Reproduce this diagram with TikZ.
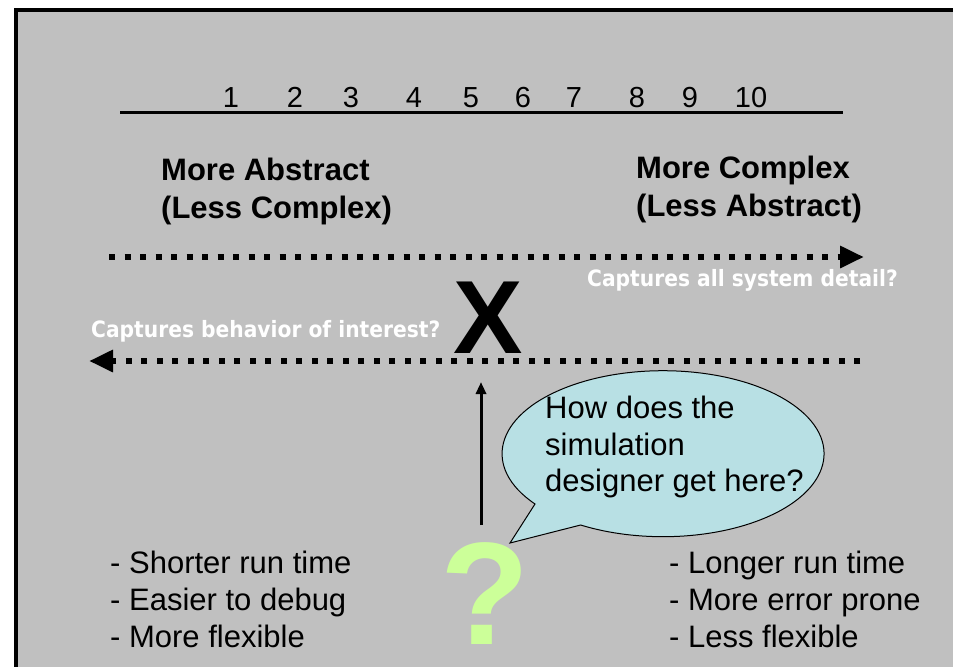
\documentclass[tikz,border=0pt]{standalone}
\usepackage{fontspec}
\setmainfont{Liberation Sans}
\newfontfamily\capfont{DejaVu Sans}[FakeStretch=0.9]
\usetikzlibrary{arrows.meta}
\definecolor{slidegray}{RGB}{192,192,192}
\definecolor{bubblecyan}{RGB}{184,224,228}
\definecolor{qgreen}{RGB}{204,255,153}

\begin{document}
\begin{tikzpicture}[x=1pt,y=-1pt,
  txt/.style={inner sep=0pt, anchor=base west, font=\fontsize{31}{37}\selectfont},
  headtxt/.style={inner sep=0pt, anchor=base west, font=\fontsize{31}{37}\selectfont\bfseries},
  numtxt/.style={inner sep=0pt, anchor=base, font=\fontsize{29}{34}\selectfont},
  captxt/.style={inner sep=0pt, anchor=base west, text=white,
    font=\capfont\bfseries\fontsize{22.5}{27}\selectfont},
  dotarrow/.style={line width=6pt, dash pattern=on 6pt off 9.5pt,
    -{Triangle[length=24pt,width=21pt]}},
]
% page and slide background
\useasboundingbox (0,0) rectangle (953,667);
\fill[white] (0,0) rectangle (953,667);
\fill[slidegray] (16,10) rectangle (953,667);
\draw[line width=4pt] (14,10) -- (953,10);
\draw[line width=4pt] (16,10) -- (16,667);

% scale 1..10
\coordinate (scaleL) at (120,112);
\coordinate (scaleR) at (843,112);
\draw[line width=3pt] (scaleL) -- (scaleR);
\foreach \n/\x in {1/231,2/295,3/351,4/414,5/471,6/523,7/574,8/637,9/690,10/751}
  \node[numtxt] (n\n) at (\x,107) {\n};

% headings
\node[headtxt] (absA) at (161,180) {More Abstract};
\node[headtxt] (absB) at (161,218) {(Less Complex)};
\node[headtxt] (cplA) at (636,178) {More Complex};
\node[headtxt] (cplB) at (636,216) {(Less Abstract)};

% dotted direction arrows
\coordinate (topL) at (109,257);
\coordinate (topR) at (864,257);
\coordinate (botR) at (860,361);
\coordinate (botL) at (89,361);
\draw[dotarrow] (topL) -- (topR);
\draw[dotarrow] (botR) -- (botL);
\node[captxt] (capAll) at (587,286) {Captures all system detail?};
\node[captxt] (capBeh) at (91,337) {Captures behavior of interest?};

% the X mark and the question
\node[inner sep=0pt, anchor=base, font=\fontsize{104}{110}\selectfont\bfseries] (xmark) at (488,353) {X};
\node[inner sep=0pt, anchor=base, text=qgreen, font=\fontsize{146}{150}\selectfont\bfseries] (qmark) at (485,644) {?};
\coordinate (upS) at (481,525);
\coordinate (upE) at (481,382);
\draw[line width=3pt, -{Triangle[length=12pt,width=10pt]}] (upS) -- (upE);

% speech bubble
\coordinate (tip) at (510,543);
\coordinate (tailA) at (535,504);
\draw[fill=bubblecyan, line width=1pt] (tip) -- (tailA)
  arc[start angle=142.7, end angle=480.8, x radius=161, y radius=83] -- cycle;
\node[txt] (bq1) at (545,418) {How does the};
\node[txt] (bq2) at (545,455) {simulation};
\node[txt] (bq3) at (545,491) {designer get here?};

% trade-offs
\node[txt] (l1) at (110,573) {- Shorter run time};
\node[txt] (l2) at (110,610) {- Easier to debug};
\node[txt] (l3) at (110,647) {- More flexible};
\node[txt] (r1) at (669,573) {- Longer run time};
\node[txt] (r2) at (669,610) {- More error prone};
\node[txt] (r3) at (669,647) {- Less flexible};
\end{tikzpicture}
\end{document}
